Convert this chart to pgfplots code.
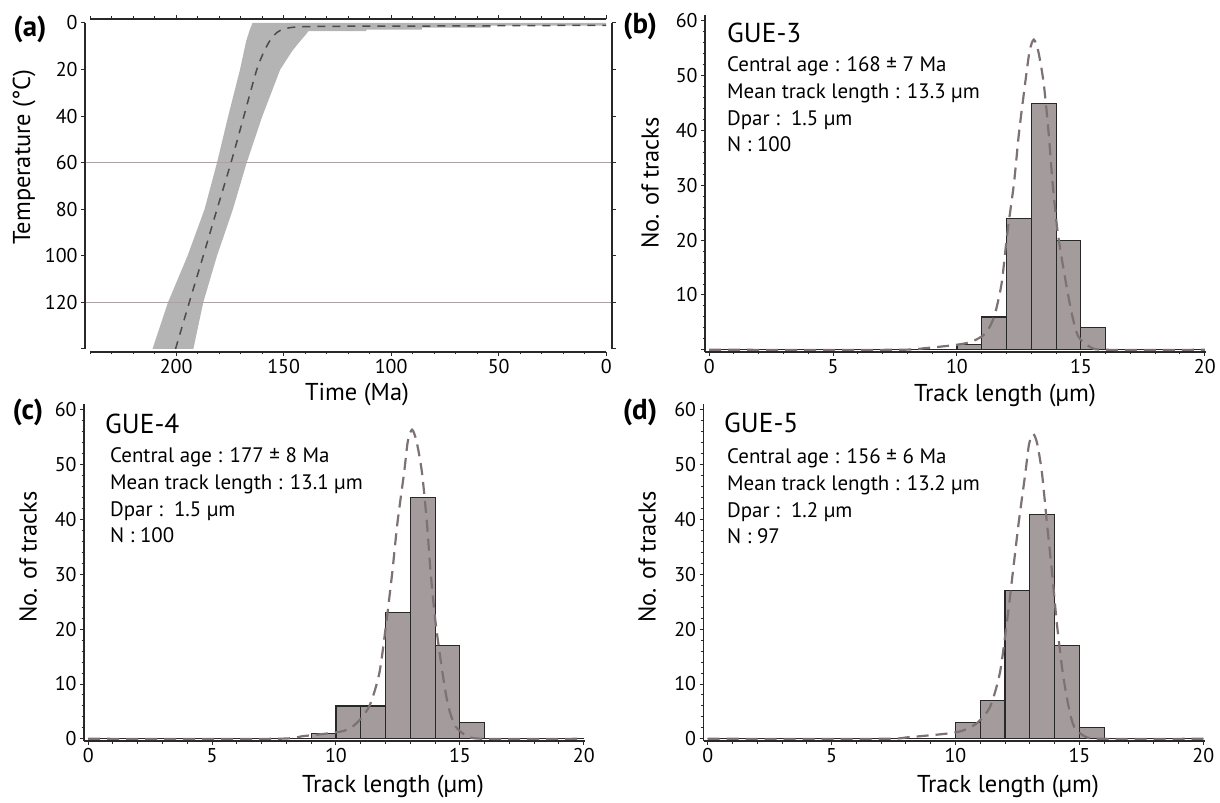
\documentclass[border=0pt]{standalone}
\usepackage{fontspec}
\setmainfont{PT Sans}
\usepackage{pgfplots}
\pgfplotsset{compat=1.18}
\definecolor{band}{RGB}{180,180,180}
\definecolor{barc}{RGB}{164,156,156}
\definecolor{curvec}{RGB}{125,113,115}
\definecolor{axc}{RGB}{40,40,40}
\definecolor{hline}{RGB}{170,162,162}
\newcommand{\tickfont}{\fontsize{20}{22}\selectfont}
\newcommand{\labfont}{\fontsize{24.5}{28}\selectfont}
\newcommand{\infofont}{\fontsize{21}{24}\selectfont}
\newcommand{\gfont}{\fontsize{27.5}{30}\selectfont}
\newcommand{\pfont}{\fontsize{29}{32}\selectfont\bfseries}
\pgfplotsset{
  hist/.style={
    width=501bp, height=336.5bp, scale only axis,
    xmin=-0.17, xmax=20.05, ymin=-0.4, ymax=61,
    axis lines=left, axis line style={-, axc, line width=1.3bp},
    xtick={0,5,...,20}, minor xtick={1,...,19},
    ytick={0,10,...,60}, minor ytick={2,4,...,58},
    tick align=outside, major tick length=4bp, minor tick length=2.5bp,
    tick style={axc, line width=1bp},
    tick label style={font=\tickfont},
    /pgf/number format/assume math mode=true,
    clip=false,
  },
  barsty/.style={ybar interval, fill=barc, draw=axc, line width=1.2bp},
  curvesty/.style={curvec, line width=2.2bp, dash pattern=on 12bp off 7bp, smooth, tension=0.45},
}
\begin{document}
\begin{tikzpicture}
\useasboundingbox (0bp,0bp) rectangle (1220bp,803bp);

% ---------------- (a) ----------------
\begin{axis}[at={(85bp,451bp)}, anchor=south west, width=527bp, height=333bp, scale only axis,
  x dir=reverse, y dir=reverse, xmin=-2.7, xmax=242.4, ymin=-1.7, ymax=141.3,
  xtick={0,50,...,200}, minor xtick={10,20,...,240},
  ytick={0,20,...,140}, yticklabels={0,20,40,60,80,100,120,{}},
  tick align=outside, major tick length=4bp, minor tick length=2.5bp,
  tick style={axc, line width=1bp},
  tick label style={font=\tickfont},
  /pgf/number format/assume math mode=true,
  axis line style={draw=none}, clip=false]
\addplot[fill=band, draw=none] coordinates {
 (211,140) (203.8,120) (194.7,100) (186.8,80) (181,60) (175.8,40) (170.3,20) (167.5,8) (165.8,3) (164.5,0)
 (0,0) (0,1.1) (53.7,1.1) (53.7,2) (85.7,2) (85.7,2.9) (111.5,2.9) (111.5,3.5) (138.5,3.5) (139.7,5) (142.5,8) (146,12) (151.6,20) (159.9,40) (167.2,60) (173.6,80) (181,100) (187.4,120) (192,140)
} -- cycle;
\addplot[hline, line width=1.2bp] coordinates {(242.4,60) (-2.7,60)};
\addplot[hline, line width=1.2bp] coordinates {(242.4,120) (-2.7,120)};
\addplot[black!70, line width=1.5bp, dash pattern=on 8bp off 7bp, smooth, tension=0.4] coordinates {
 (200.3,140) (193.9,120) (187.4,100) (181,80) (174.5,60) (168.5,40) (162.5,20) (159,12) (156,7) (153,4) (150,2.6) (146,1.9) (140,1.6) (120,1.4) (79,1.3) (0,1.0)};
\draw[axc, line width=1.3bp] (axis cs:240,-1.7) -- (axis cs:0,-1.7);
\draw[axc, line width=1.3bp] (axis cs:240,141.3) -- (axis cs:0,141.3);
\draw[axc, line width=1.3bp] (axis cs:242.4,0) -- (axis cs:242.4,140);
\draw[axc, line width=1.3bp] (axis cs:-2.7,0) -- (axis cs:-2.7,140);
\end{axis}

% ---------------- (b) ----------------
\begin{axis}[hist, at={(705bp,451bp)}, anchor=south west, yticklabels={{},10,20,30,40,50,60}]
\addplot[barsty] coordinates {
 (0,0) (1,0) (2,0) (3,0) (4,0) (5,0) (6,0) (7,0) (8,0) (9,0) (10,1) (11,6) (12,24) (13,45) (14,20) (15,4) (16,0) (17,0) (18,0) (19,0) (20,0)};
\addplot[curvesty] coordinates {
 (0,0) (7.5,0) (8.7,0.3) (9.96,0.9) (10.6,1.5) (11.15,3.0) (11.5,6.07) (11.8,12.1) (12.03,21.25) (12.3,30.4) (12.5,39.5) (12.75,48.6) (12.93,54.5) (13.1,56.6) (13.28,54.5) (13.5,48.6) (13.7,39.5) (13.86,30.4) (14.07,21.25) (14.4,12.1) (14.66,6.07) (14.9,2.4) (15.38,0.5) (16,0) (20,0)};
\end{axis}

% ---------------- (c) ----------------
\begin{axis}[hist, at={(84bp,62bp)}, anchor=south west]
\addplot[barsty] coordinates {
 (0,0) (1,0) (2,0) (3,0) (4,0) (5,0) (6,0) (7,0) (8,0) (9,1) (10,6) (11,6) (12,23) (13,44) (14,17) (15,3) (16,0) (17,0) (18,0) (19,0) (20,0)};
\addplot[curvesty] coordinates {
 (0,0) (7.5,0) (8.7,0.5) (10.28,1.4) (10.84,2.9) (11.35,6.0) (11.75,12.0) (12.03,21.2) (12.27,30.3) (12.48,39.4) (12.75,48.6) (12.9,54.3) (13.07,56.4) (13.25,54.3) (13.47,48.6) (13.67,39.4) (13.82,30.3) (14.02,21.2) (14.3,12.0) (14.53,6.0) (14.82,2.3) (15.3,0.5) (16,0) (20,0)};
\end{axis}

% ---------------- (d) ----------------
\begin{axis}[hist, at={(703.5bp,62bp)}, anchor=south west]
\addplot[barsty] coordinates {
 (0,0) (1,0) (2,0) (3,0) (4,0) (5,0) (6,0) (7,0) (8,0) (9,0) (10,3) (11,7) (12,27) (13,41) (14,17) (15,2) (16,0) (17,0) (18,0) (19,0) (20,0)};
\addplot[curvesty] coordinates {
 (0,0) (7,0) (8.13,0.3) (10.04,1.2) (10.83,2.75) (11.39,5.8) (11.79,12.0) (12.07,21.1) (12.31,30.2) (12.55,39.4) (12.82,48.5) (12.97,53.8) (13.14,55.6) (13.3,53.8) (13.49,48.5) (13.69,39.4) (13.9,30.2) (14.09,21.1) (14.33,12.0) (14.57,5.8) (14.8,2.1) (15.28,0.3) (15.9,0) (20,0)};
\end{axis}

% ---------------- texts ----------------
\begin{scope}[x=1bp,y=1bp]
\node[font=\pfont] at (30,774) {(a)};
\node[font=\pfont] at (640,777) {(b)};
\node[font=\pfont] at (28,391) {(c)};
\node[font=\pfont] at (640,391) {(d)};

\node[font=\labfont] at (357,409) {Time (Ma)};
\node[font=\labfont, rotate=90] at (24,646) {Temperature (°C)};

\node[font=\labfont, rotate=90] at (650,620) {No. of tracks};
\node[font=\labfont, rotate=90] at (28,246) {No. of tracks};
\node[font=\labfont, rotate=90] at (647,246) {No. of tracks};
\node[font=\labfont] at (1005,408) {Track length (µm)};
\node[font=\labfont] at (393,17) {Track length (µm)};
\node[font=\labfont] at (1008,17) {Track length (µm)};

\node[font=\gfont, anchor=base west, inner sep=0] at (727,760) {GUE-3};
\node[font=\infofont, anchor=base west, inner sep=0] at (727,731) {Central age : 168 ± 7 Ma};
\node[font=\infofont, anchor=base west, inner sep=0] at (727,704) {Mean track length : 13.3 µm};
\node[font=\infofont, anchor=base west, inner sep=0] at (727,677) {Dpar :\ \ 1.5 µm};
\node[font=\infofont, anchor=base west, inner sep=0] at (727,651) {N : 100};

\node[font=\gfont, anchor=base west, inner sep=0] at (105,370) {GUE-4};
\node[font=\infofont, anchor=base west, inner sep=0] at (110,341) {Central age : 177 ± 8 Ma};
\node[font=\infofont, anchor=base west, inner sep=0] at (110,314) {Mean track length : 13.1 µm};
\node[font=\infofont, anchor=base west, inner sep=0] at (110,287) {Dpar :\ \ 1.5 µm};
\node[font=\infofont, anchor=base west, inner sep=0] at (110,261) {N : 100};

\node[font=\gfont, anchor=base west, inner sep=0] at (724,371) {GUE-5};
\node[font=\infofont, anchor=base west, inner sep=0] at (727,340) {Central age : 156 ± 6 Ma};
\node[font=\infofont, anchor=base west, inner sep=0] at (727,313) {Mean track length : 13.2 µm};
\node[font=\infofont, anchor=base west, inner sep=0] at (727,286) {Dpar :\ \ 1.2 µm};
\node[font=\infofont, anchor=base west, inner sep=0] at (727,260) {N : 97};
\end{scope}
\end{tikzpicture}
\end{document}
